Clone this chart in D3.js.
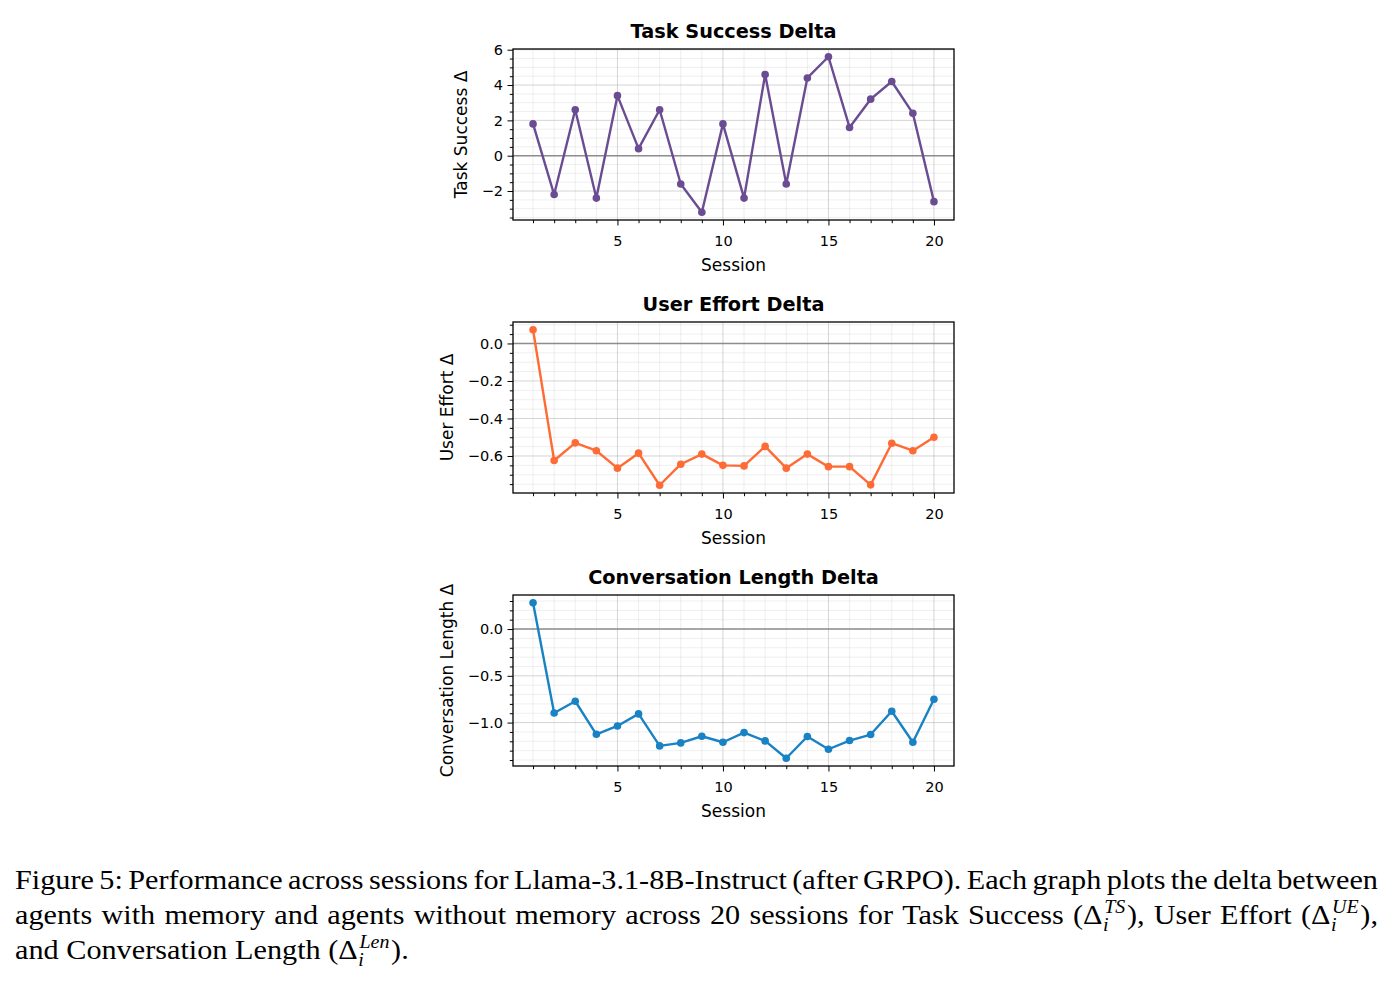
<!DOCTYPE html>
<html>
<head>
<meta charset="utf-8">
<script src="https://cdn.jsdelivr.net/npm/d3@7"></script>
<style>
  body { margin: 0; background: #fff; }
  svg { display: block; }
</style>
</head>
<body>
<svg id="fig" width="1395" height="988"></svg>
<script>
// Data
const sessions = [1, 2, 3, 4, 5, 6, 7, 8, 9, 10, 11, 12, 13, 14, 15, 16, 17, 18, 19, 20];
const taskSuccess = [1.8, -2.2, 2.6, -2.4, 3.4, 0.4, 2.6, -1.6, -3.2, 1.8, -2.4, 4.6, -1.6, 4.4, 5.6, 1.6, 3.2, 4.2, 2.4, -2.6];
const userEffort = [0.073, -0.624, -0.530, -0.572, -0.665, -0.585, -0.756, -0.644, -0.590, -0.650, -0.653, -0.549, -0.665, -0.590, -0.657, -0.657, -0.754, -0.532, -0.572, -0.500];
const convLength = [0.281, -0.897, -0.772, -1.125, -1.036, -0.907, -1.249, -1.217, -1.146, -1.210, -1.107, -1.196, -1.381, -1.149, -1.285, -1.192, -1.128, -0.879, -1.210, -0.751];
const xTickValues = [5, 10, 15, 20];

const panels = [
    { title: "Task Success Delta", ylabel: "Task Success \u0394", values: taskSuccess, color: "#6a4c93", fmt: "d" },
    { title: "User Effort Delta", ylabel: "User Effort \u0394", values: userEffort, color: "#ff6b35", fmt: ".1f" },
    { title: "Conversation Length Delta", ylabel: "Conversation Length \u0394", values: convLength, color: "#1982c4", fmt: ".1f" }
];

const captionLines = [
    "Figure 5: Performance across sessions for Llama-3.1-8B-Instruct (after GRPO). Each graph plots the delta between",
    "agents with memory and agents without memory across 20 sessions for Task Success (\u0394[i|TS]), User Effort (\u0394[i|UE]),",
    "and Conversation Length (\u0394[i|Len])."
];

const svg = d3.select("#fig");
const font = "DejaVu Sans";

// layout
const left = 513, right = 954, boxH = 171;
const tops = [49, 322, 595];
const tickLen = 5.5, minorLen = 3.2;

const x = d3.scaleLinear().domain([0.05, 20.95]).range([left, right]);

function minorTicks(scale, major) {
    const step = major[1] - major[0];
    const mant = step / Math.pow(10, Math.floor(Math.log10(step) + 1e-9));
    const ndiv = (Math.abs(mant - 1) < 1e-6 || Math.abs(mant - 5) < 1e-6) ? 5 : 4;
    const ms = step / ndiv;
    const [d0, d1] = scale.domain();
    const out = [];
    for (let v = Math.ceil(d0 / ms) * ms; v <= d1 + 1e-9; v += ms) {
        const r = Math.round(v / ms) * ms;
        if (!major.some(m => Math.abs(m - r) < ms / 10)) out.push(r);
    }
    return out;
}

panels.forEach((p, i) => {
    const top = tops[i], bottom = top + boxH;
    const ext = d3.extent(p.values);
    const pad = (ext[1] - ext[0]) * 0.05;
    const y = d3.scaleLinear().domain([ext[0] - pad, ext[1] + pad]).range([bottom, top]);
    const yMajor = y.ticks(5);
    const yMinor = minorTicks(y, yMajor);
    const xMinor = sessions.filter(s => !xTickValues.includes(s));

    const g = svg.append("g");

    // grids
    const grid = g.append("g");
    grid.selectAll(".xminor").data(xMinor).join("line")
        .attr("x1", d => x(d)).attr("x2", d => x(d)).attr("y1", top).attr("y2", bottom)
        .attr("stroke", "#b0b0b0").attr("stroke-opacity", 0.25).attr("stroke-width", 0.8);
    grid.selectAll(".yminor").data(yMinor).join("line")
        .attr("x1", left).attr("x2", right).attr("y1", d => y(d)).attr("y2", d => y(d))
        .attr("stroke", "#b0b0b0").attr("stroke-opacity", 0.25).attr("stroke-width", 0.8);
    grid.selectAll(".xmajor").data(xTickValues).join("line")
        .attr("x1", d => x(d)).attr("x2", d => x(d)).attr("y1", top).attr("y2", bottom)
        .attr("stroke", "#b0b0b0").attr("stroke-opacity", 0.55).attr("stroke-width", 1);
    grid.selectAll(".ymajor").data(yMajor).join("line")
        .attr("x1", left).attr("x2", right).attr("y1", d => y(d)).attr("y2", d => y(d))
        .attr("stroke", "#b0b0b0").attr("stroke-opacity", 0.55).attr("stroke-width", 1);

    // zero line
    g.append("line")
        .attr("x1", left).attr("x2", right).attr("y1", y(0)).attr("y2", y(0))
        .attr("stroke", "#808080").attr("stroke-opacity", 0.85).attr("stroke-width", 1.4);

    // series
    const pts = sessions.map((s, k) => [s, p.values[k]]);
    g.append("path")
        .datum(pts)
        .attr("fill", "none")
        .attr("stroke", p.color)
        .attr("stroke-width", 2.4)
        .attr("stroke-linejoin", "round")
        .attr("d", d3.line().x(d => x(d[0])).y(d => y(d[1])));
    g.selectAll(".pt").data(pts).join("circle")
        .attr("cx", d => x(d[0])).attr("cy", d => y(d[1])).attr("r", 3.8)
        .attr("fill", p.color);

    // axes
    const fmt = d3.format(p.fmt);
    const yAxis = g.append("g").attr("transform", `translate(${left},0)`)
        .call(d3.axisLeft(y).tickValues(yMajor).tickFormat(fmt).tickSize(tickLen).tickPadding(4.5));
    g.append("g").attr("transform", `translate(${left},0)`)
        .call(d3.axisLeft(y).tickValues(yMinor).tickFormat("").tickSize(minorLen));
    g.append("g").attr("transform", `translate(0,${bottom})`)
        .call(d3.axisBottom(x).tickValues(xTickValues).tickFormat(d3.format("d")).tickSize(tickLen).tickPadding(10));
    g.append("g").attr("transform", `translate(0,${bottom})`)
        .call(d3.axisBottom(x).tickValues(xMinor).tickFormat("").tickSize(minorLen));

    g.selectAll(".domain").remove();
    g.selectAll(".tick line").attr("stroke", "#000").attr("stroke-width", 1);
    g.selectAll(".tick text").attr("font-family", font).attr("font-size", 14.5).attr("fill", "#000");

    // box
    g.append("rect")
        .attr("x", left).attr("y", top).attr("width", right - left).attr("height", boxH)
        .attr("fill", "none").attr("stroke", "#000").attr("stroke-width", 1.3);

    // title
    g.append("text")
        .attr("x", (left + right) / 2).attr("y", top - 11)
        .attr("text-anchor", "middle")
        .attr("font-family", font).attr("font-weight", "bold").attr("font-size", 19.3)
        .text(p.title);

    // x label
    g.append("text")
        .attr("x", (left + right) / 2).attr("y", bottom + 51)
        .attr("text-anchor", "middle")
        .attr("font-family", font).attr("font-size", 17)
        .text("Session");

    // y label, placed beside the widest tick label
    let maxW = 0;
    yAxis.selectAll(".tick text").each(function () { maxW = Math.max(maxW, this.getComputedTextLength()); });
    const lx = left - tickLen - 4.5 - maxW - 15;
    g.append("text")
        .attr("transform", `translate(${lx},${(top + bottom) / 2}) rotate(-90)`)
        .attr("text-anchor", "middle")
        .attr("font-family", font).attr("font-size", 17)
        .text(p.ylabel);
});

// caption, justified like the LaTeX paragraph
const capFont = "Liberation Serif";
const capSize = 27;
const capStretch = 1.12;
const capLeft = 15, capRight = 1378;
const capBase = [889, 924, 959];
const cap = svg.append("g").attr("font-family", capFont).attr("font-size", capSize).attr("fill", "#000");

function drawWord(parent, word) {
    const wg = parent.append("g");
    let cx = 0;
    const re = /\u0394\[(\w+)\|(\w+)\]/;
    const m = word.match(re);
    const addText = (str, opts = {}) => {
        const t = wg.append("text").attr("x", cx).attr("y", opts.dy || 0).text(str);
        if (opts.italic) t.attr("font-style", "italic");
        if (opts.size) t.attr("font-size", opts.size);
        return t.node().getComputedTextLength();
    };
    if (!m) {
        cx += addText(word);
    } else {
        const before = word.slice(0, m.index) + "\u0394";
        const after = word.slice(m.index + m[0].length);
        cx += addText(before);
        const start = cx;
        cx = start + 0.5;
        const wSub = addText(m[1], { italic: true, size: capSize * 0.66, dy: 7 });
        cx = start + 1.5;
        const wSup = addText(m[2], { italic: true, size: capSize * 0.66, dy: -11 });
        cx = start + Math.max(wSub + 0.5, wSup + 1.5) + 1.5;
        cx += addText(after);
    }
    return { g: wg, w: cx };
}

captionLines.forEach((line, li) => {
    const words = line.split(" ");
    const lg = cap.append("g");
    const items = words.map(w => drawWord(lg, w));
    const total = d3.sum(items, d => d.w) * capStretch;
    const justify = li < captionLines.length - 1;
    const gap = justify ? (capRight - capLeft - total) / (items.length - 1) : capSize * 0.25 * capStretch;
    let cx = capLeft;
    items.forEach(it => {
        it.g.attr("transform", `translate(${cx},${capBase[li]}) scale(${capStretch},1)`);
        cx += it.w * capStretch + gap;
    });
});
</script>
</body>
</html>
